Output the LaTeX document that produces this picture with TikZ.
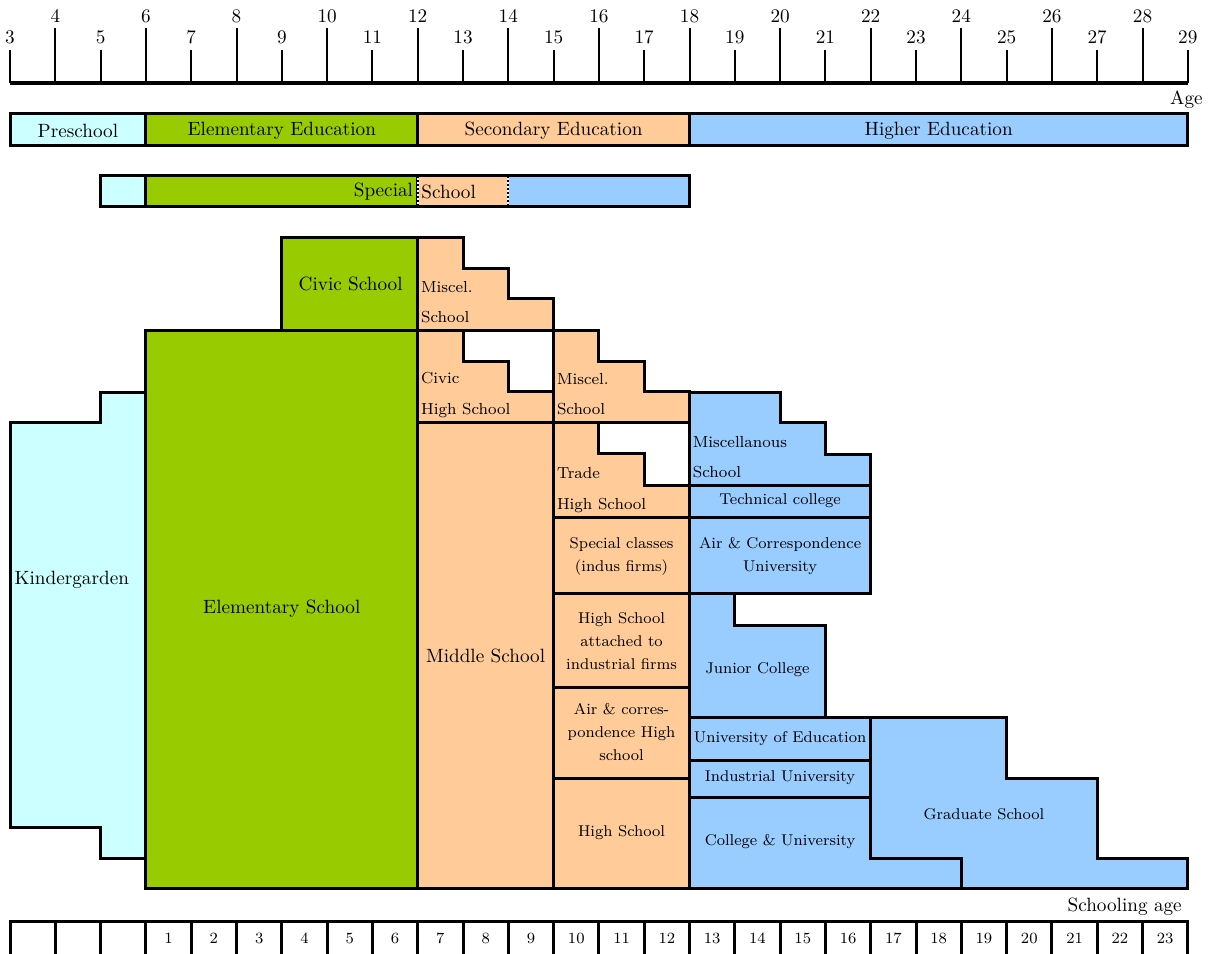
\documentclass[tikz,border=0pt]{standalone}
\usepackage{fontspec}
\definecolor{prekid}{HTML}{CCFFFF}
\definecolor{elemgreen}{HTML}{99CC00}
\definecolor{secpeach}{HTML}{FFCC99}
\definecolor{highblue}{HTML}{99CCFF}

\begin{document}
\begin{tikzpicture}[x=22.65pt,y=-0.5pt]
    \tikzstyle{pre}=[fill=prekid, draw, line width=1.5pt]
    \tikzstyle{elem}=[fill=elemgreen, draw, line width=1.5pt]
    \tikzstyle{sec}=[fill=secpeach, draw, line width=1.5pt]
    \tikzstyle{high}=[fill=highblue, draw, line width=1.5pt]
    \tikzstyle{big}=[font=\fontsize{9.6}{12}\selectfont, inner sep=1pt]
    \tikzstyle{small}=[font=\fontsize{7.8}{11.5}\selectfont, inner sep=1pt, align=center]
    \tikzstyle{stair}=[font=\fontsize{8}{15.25}\selectfont, inner sep=1.5pt, align=left, anchor=west]
    \tikzstyle{tick}=[line width=1pt]
    \tikzstyle{cut}=[line width=1pt, dash pattern=on 1pt off 1pt]

    \useasboundingbox (2.779,0) rectangle (29.711,954);

    % age axis
    \draw[line width=2.2pt] (3,83) -- (29,83);
    \foreach \a in {4,6,...,28} {
        \draw[tick] (\a,28) -- (\a,83);
        \node[big] (age\a) at (\a,16) {\a};
    }
    \foreach \a in {3,5,...,29} {
        \draw[tick] (\a,50) -- (\a,83);
        \node[big] (age\a) at (\a,37) {\a};
    }
    \node[big, anchor=east] (agelabel) at (29.38,100) {Age};

    % stages
    \draw[pre] (3,113) rectangle (6,145);
    \node[big] (preschool) at (4.5,131) {Preschool};
    \draw[elem] (6,113) rectangle (12,145);
    \node[big] (elemedu) at (9,131) {Elementary Education};
    \draw[sec] (12,113) rectangle (18,145);
    \node[big] (secedu) at (15,131) {Secondary Education};
    \draw[high] (18,113) rectangle (29,145);
    \node[big] (highedu) at (23.5,131) {Higher Education};

    % special school
    \draw[pre] (5,175) rectangle (6,206);
    \draw[elem] (6,175) rectangle (12,206);
    \fill[secpeach] (12,175) rectangle (14,206);
    \fill[highblue] (14,175) rectangle (18,206);
    \draw[line width=1.5pt] (5,175) rectangle (18,206);
    \draw[white, line width=1pt] (12,176) -- (12,205);
    \draw[cut] (12,176) -- (12,205);
    \draw[white, line width=1pt] (14,176) -- (14,205);
    \draw[cut] (14,176) -- (14,205);
    \node[big, anchor=east] (special) at (11.95,192) {Special};
    \node[big, anchor=west] (specialschool) at (12.03,192) {School};

    % first row
    \draw[elem] (9,237) rectangle (12,330);
    \node[big] (civic) at (10.52,284) {Civic School};
    \draw[sec] (12,237) -- (13,237) -- (13,268) -- (14,268) -- (14,298) -- (15,298) -- (15,330) -- (12,330) -- cycle;
    \node[stair] (miscel1) at (12,302) {Miscel.\\School};

    % second row
    \draw[pre] (3,422) -- (5,422) -- (5,392) -- (6,392) -- (6,858) -- (5,858) -- (5,827) -- (3,827) -- cycle;
    \node[big, anchor=west] (kinder) at (3.05,580) {Kindergarden};
    \draw[elem] (6,330) rectangle (12,888);
    \node[big] (elemschool) at (9,609) {Elementary School};
    \draw[sec] (12,330) -- (13,330) -- (13,361) -- (14,361) -- (14,391) -- (15,391) -- (15,422) -- (12,422) -- cycle;
    \node[stair] (civichigh) at (12,395) {Civic\\High School};
    \draw[sec] (15,330) -- (16,330) -- (16,361) -- (17,361) -- (17,391) -- (18,391) -- (18,422) -- (15,422) -- cycle;
    \node[stair] (miscel2) at (15,394) {Miscel.\\School};

    % middle and high schools
    \draw[sec] (12,422) rectangle (15,888);
    \node[big] (middle) at (13.5,656) {Middle School};
    \draw[sec] (15,422) -- (16,422) -- (16,453) -- (17,453) -- (17,485) -- (18,485) -- (18,517) -- (15,517) -- cycle;
    \node[stair] (trade) at (15,490) {Trade\\High School};
    \draw[sec] (15,517) rectangle (18,593);
    \node[small] (specclass) at (16.5,556) {Special classes\\(indus firms)};
    \draw[sec] (15,593) rectangle (18,687);
    \node[small] (attached) at (16.5,641) {High School\\attached to\\industrial firms};
    \draw[sec] (15,687) rectangle (18,778);
    \node[small] (airhigh) at (16.5,732) {Air \& corres-\\pondence High\\school};
    \draw[sec] (15,778) rectangle (18,888);
    \node[small] (highschool) at (16.5,833) {High School};

    % higher education
    \draw[high] (18,392) -- (20,392) -- (20,422) -- (21,422) -- (21,454) -- (22,454) -- (22,485) -- (18,485) -- cycle;
    \node[stair] (miscell) at (18,457) {Miscellanous\\School};
    \draw[high] (18,485) rectangle (22,517);
    \node[small] (technical) at (20,501) {Technical college};
    \draw[high] (18,517) rectangle (22,593);
    \node[small] (airuniv) at (20,556) {Air \& Correspondence\\University};
    \draw[high] (18,593) -- (19,593) -- (19,625) -- (21,625) -- (21,717) -- (18,717) -- cycle;
    \node[small] (junior) at (19.5,670) {Junior College};
    \draw[high] (18,717) rectangle (22,760);
    \node[small] (univedu) at (20,739) {University of Education};
    \draw[high] (18,760) rectangle (22,797);
    \node[small] (induniv) at (20,778) {Industrial University};
    \draw[high] (18,797) -- (22,797) -- (22,858) -- (24,858) -- (24,888) -- (18,888) -- cycle;
    \node[small] (college) at (20,842) {College \& University};
    \draw[high] (22,717) -- (25,717) -- (25,778) -- (27,778) -- (27,858) -- (29,858) -- (29,888) -- (24,888) -- (24,858) -- (22,858) -- cycle;
    \node[small] (graduate) at (24.5,814) {Graduate School};

    % schooling age
    \node[big, anchor=east] (schoolage) at (28.92,907) {Schooling age};
    \draw[line width=1.5pt] (3,921) rectangle (29,970);
    \foreach \a in {4,...,28}
        \draw[line width=1.5pt] (\a,921) -- (\a,970);
    \foreach \n in {1,...,23}
        \node[small] (grade\n) at (\n+5.5,938) {\n};
\end{tikzpicture}
\end{document}
